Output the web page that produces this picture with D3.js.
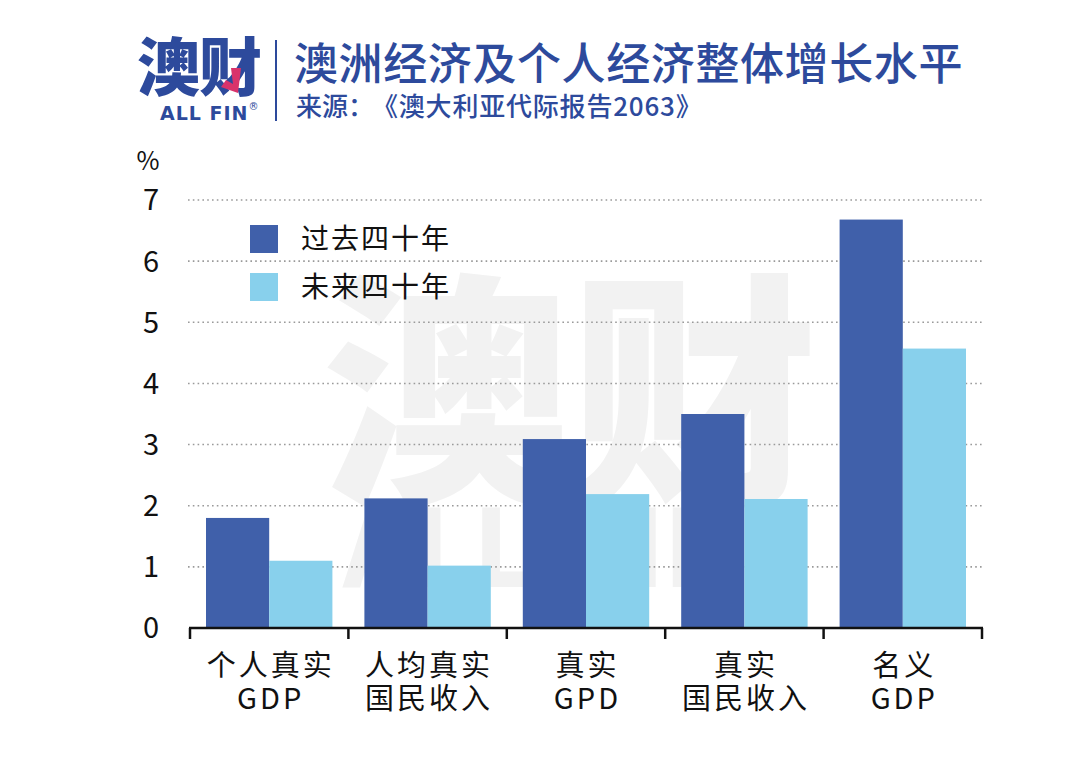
<!DOCTYPE html>
<html><head><meta charset="utf-8">
<script src="https://cdn.jsdelivr.net/npm/d3@7"></script>
<style>
html,body{margin:0;padding:0;background:#fff;}
svg{display:block;font-family:"Noto Sans CJK SC","Noto Sans",sans-serif;}
</style></head>
<body>
<svg id="c" width="1080" height="767"></svg>
<script>
const categories = [["个人真实","GDP"],["人均真实","国民收入"],["真实","GPD"],["真实","国民收入"],["名义","GDP"]];
const seriesNames = ["过去四十年","未来四十年"];
const pastValues = [1.80, 2.12, 3.09, 3.50, 6.68];
const futureValues = [1.10, 1.02, 2.19, 2.11, 4.57];
const yTicks = [0,1,2,3,4,5,6,7];
const titleText = "澳洲经济及个人经济整体增长水平";
const subtitleLead = "来源：";
const subtitleBody = "《澳大利亚代际报告2063》";
const colors = ["#4060aa","#88d0ec"];
const brand = "#2d4a9c";

const svg = d3.select("#c");
const catKeys = categories.map((d,i)=>i);
const x = d3.scaleBand().domain(catKeys).range([190, 982]).padding(0);
const xi = d3.scaleBand().domain([0,1]).range([16, x.bandwidth()-16]).padding(0);
const y = d3.scaleLinear().domain([0,7]).range([628, 200]);

// header logo
const logo = svg.append("g");
logo.append("text").attr("x",137).attr("y",90).attr("font-size",63).attr("font-weight",900)
  .attr("fill",brand).attr("letter-spacing",-1).text("澳财");
logo.append("path").attr("d","M231 68 L241 68 L238 93 L221 87 L226 80 L233 84 Z").attr("fill","#d8336b");
const lt = logo.append("text").attr("x",160).attr("y",120).attr("font-size",19).attr("font-weight",900)
  .attr("fill",brand).attr("letter-spacing",1).attr("font-family","'DejaVu Sans',sans-serif");
lt.append("tspan").text("ALL FIN");
lt.append("tspan").attr("font-size",10).attr("font-weight",400).attr("dy",-10).text("®");
svg.append("line").attr("x1",276).attr("x2",276).attr("y1",40).attr("y2",121).attr("stroke",brand).attr("stroke-width",2);

svg.append("text").attr("x",294).attr("y",80).attr("font-size",44).attr("font-weight",500)
  .attr("fill",brand).attr("letter-spacing",0.6).text(titleText);
const st = svg.append("text").attr("y",116).attr("font-size",26).attr("font-weight",500).attr("fill",brand);
st.append("tspan").attr("x",296).text(subtitleLead);
st.append("tspan").attr("x",372).attr("letter-spacing",0.8).text(subtitleBody);

// watermark (behind bars)
const wm = svg.append("g").attr("fill","#f2f2f2");
wm.append("text").attr("x",570).attr("y",485).attr("text-anchor","middle").attr("font-size",248)
  .attr("font-weight",900).text("澳财");
const wt = wm.append("text").attr("x",342).attr("y",587).attr("font-size",108)
  .attr("font-weight",700).attr("font-family","'DejaVu Sans',sans-serif")
  .attr("textLength",442).attr("lengthAdjust","spacingAndGlyphs");
wt.append("tspan").text("ALL FIN");
wt.append("tspan").attr("font-size",48).attr("dy",-50).text("®");

// grid
svg.append("g").selectAll("line").data(yTicks.filter(t=>t>0)).join("line")
  .attr("x1",188).attr("x2",983).attr("y1",d=>y(d)).attr("y2",d=>y(d))
  .attr("stroke","#9a9a9a").attr("stroke-width",1.6).attr("stroke-dasharray","1.6,3.2");

// y tick labels
svg.append("g").selectAll("text").data(yTicks).join("text")
  .attr("x",151).attr("y",d=>y(d)).attr("dy","0.36em").attr("text-anchor","middle")
  .attr("font-size",29).attr("fill","#111").text(d=>d);
svg.append("text").attr("x",148).attr("y",170).attr("text-anchor","middle").attr("font-size",25).attr("fill","#111").text("%");

// bars
const groups = svg.append("g").selectAll("g").data(catKeys).join("g")
  .attr("transform",d=>`translate(${x(d)},0)`);
groups.selectAll("rect").data(i=>[pastValues[i], futureValues[i]]).join("rect")
  .attr("x",(d,j)=>xi(j)).attr("width",xi.bandwidth())
  .attr("y",d=>y(d)).attr("height",d=>y(0)-y(d))
  .attr("fill",(d,j)=>colors[j]);

// x axis
const xAxis = d3.axisBottom(x).tickSize(0).tickFormat("");
const ax = svg.append("g").attr("transform",`translate(0,${y(0)})`).call(xAxis);
ax.select(".domain").remove();
ax.append("line").attr("x1",189).attr("x2",983).attr("y1",0).attr("y2",0).attr("stroke","#111").attr("stroke-width",2.5);
ax.selectAll(".bound").data(d3.range(categories.length+1)).join("line").attr("class","bound")
  .attr("x1",i=>i<categories.length?x(i):x(categories.length-1)+x.bandwidth())
  .attr("x2",i=>i<categories.length?x(i):x(categories.length-1)+x.bandwidth())
  .attr("y1",0).attr("y2",11).attr("stroke","#111").attr("stroke-width",2.5);

const lab = svg.append("g").selectAll("text").data(catKeys).join("text")
  .attr("text-anchor","middle").attr("font-size",29).attr("fill","#111").attr("letter-spacing",3);
lab.append("tspan").attr("x",d=>x(d)+x.bandwidth()/2+1.5).attr("y",676).text(d=>categories[d][0]);
lab.append("tspan").attr("x",d=>x(d)+x.bandwidth()/2+1.5).attr("y",709).text(d=>categories[d][1]);

// legend
const lg = svg.append("g").selectAll("g").data(seriesNames).join("g")
  .attr("transform",(d,i)=>`translate(250,${225+i*48})`);
lg.append("rect").attr("width",28).attr("height",28).attr("fill",(d,i)=>colors[i]);
lg.append("text").attr("x",51).attr("y",14).attr("dy","0.36em").attr("font-size",28)
  .attr("letter-spacing",2).attr("fill","#111").text(d=>d);
</script>
</body></html>
